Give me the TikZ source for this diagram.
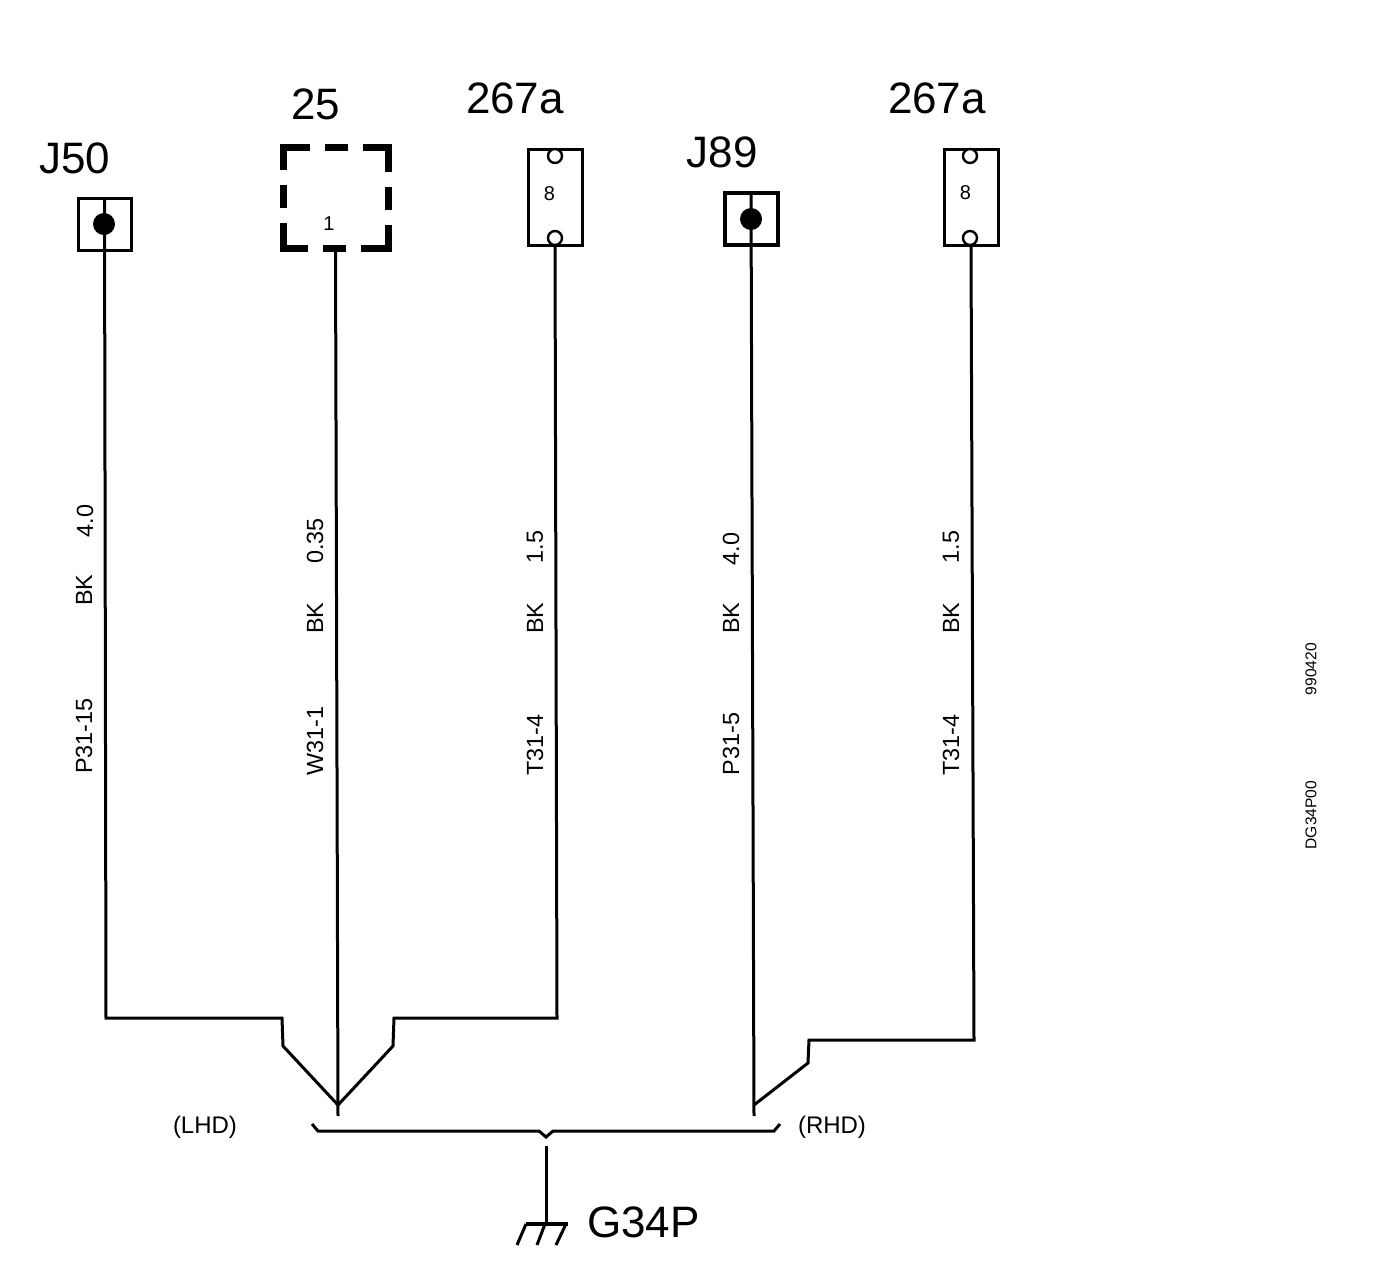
\documentclass[tikz,border=0pt]{standalone}
\usepackage{fontspec}
\setmainfont{Liberation Sans}
\begin{document}
\begin{tikzpicture}[x=0.5pt,y=-0.5pt,
  wire/.style={draw,line width=1.5pt,-,line join=miter},
  title/.style={font=\fontsize{22}{24}\selectfont,inner sep=0pt},
  small/.style={font=\fontsize{12}{14}\selectfont,inner sep=0pt},
  tiny/.style={font=\fontsize{10}{12}\selectfont,inner sep=0pt},
  cable/.style={font=\fontsize{11.7}{14}\selectfont,inner sep=0pt,rotate=90},
  code/.style={font=\fontsize{7.8}{9}\selectfont,inner sep=0pt,rotate=90},
  pinbox/.style={draw,line width=1.5pt,minimum width=26.5pt,minimum height=26pt,inner sep=0pt,outer sep=0pt},
  fusebox/.style={draw,line width=1.5pt,minimum width=27pt,minimum height=48pt,inner sep=0pt,outer sep=0pt},
  solid pin/.style={circle,fill,minimum size=11pt,inner sep=0pt},
  open pin/.style={circle,draw,fill=white,line width=1.2pt,minimum size=7pt,inner sep=0pt}]
\useasboundingbox (0,0) rectangle (1376,1282);

\node[title] (tj50) at (74.5,158) {J50};
\node[title] (t25) at (316,104) {25};
\node[title] (t267l) at (515,98.5) {267a};
\node[title] (tj89) at (722,152) {J89};
\node[title] (t267r) at (937,98.5) {267a};
\node[title] (tg34p) at (643.5,1222) {G34P};

\node[pinbox] (j50) at (104.5,224) {};
\node[pinbox,line width=2pt] (j89) at (751,219) {};
\node[fusebox] (f1) at (555,197) {};
\node[fusebox] (f2) at (971,197) {};
\node[draw,line width=3.5pt,line cap=rect,minimum width=52.5pt,minimum height=50.5pt,inner sep=0pt,outer sep=0pt,
  dash pattern=on 21.5pt off 11pt on 8pt off 11pt,dash phase=10.75pt] (c25) at (335.5,197.5) {};

\node[tiny] (n1) at (329,224) {1};

\coordinate (a1) at (106,1018);
\coordinate (a2) at (282,1018);
\coordinate (a3) at (283,1046);
\coordinate (b1) at (557,1018);
\coordinate (b2) at (394,1018);
\coordinate (b3) at (393,1046);
\coordinate (m1) at (338,1105);
\coordinate (m2) at (338,1116);
\coordinate (r1) at (974,1040);
\coordinate (r2) at (809,1040);
\coordinate (r3) at (808,1063);
\coordinate (m3) at (754,1105);
\coordinate (m4) at (754,1116);

\path[wire] (j50.north) -- (a1) -- (a2) -- (a3) -- (m1);
\path[wire] (c25.south) -- (m2);
\path[wire] (f1.south) -- (b1) -- (b2) -- (b3) -- (m1);
\path[wire] (j89.north) -- (m4);
\path[wire] (f2.south) -- (r1) -- (r2) -- (r3) -- (m3);

\node[solid pin] (p1) at (104,224) {};
\node[solid pin] (p2) at (751,219) {};
\node[open pin] (o1) at (555,156) {};
\node[open pin] (o2) at (555,238) {};
\node[open pin] (o3) at (970,156) {};
\node[open pin] (o4) at (970,238) {};
\node[tiny] (n2) at (549.5,194) {8};
\node[tiny] (n3) at (965.5,193) {8};

\node[cable] (l1) at (85,521) {4.0};
\node[cable] (l2) at (84,590) {BK};
\node[cable] (l3) at (84,736) {P31-15};
\node[cable] (l4) at (315,541) {0.35};
\node[cable] (l5) at (315,618) {BK};
\node[cable] (l6) at (315,741) {W31-1};
\node[cable] (l7) at (535,547) {1.5};
\node[cable] (l8) at (535,618) {BK};
\node[cable] (l9) at (535,745) {T31-4};
\node[cable] (l10) at (731,549) {4.0};
\node[cable] (l11) at (731,618) {BK};
\node[cable] (l12) at (731,744) {P31-5};
\node[cable] (l13) at (951,547) {1.5};
\node[cable] (l14) at (951,618) {BK};
\node[cable] (l15) at (951,745) {T31-4};

\node[small] (lhd) at (205,1127) {(LHD)};
\node[small] (rhd) at (832,1127) {(RHD)};
\node[code] (d1) at (1311,669) {990420};
\node[code] (d2) at (1311,815) {DG34P00};

% bracket and ground
\coordinate (s1) at (312,1124);
\coordinate (s2) at (318,1131);
\coordinate (s3) at (539,1131);
\coordinate (s4) at (546,1137);
\coordinate (s5) at (553,1131);
\coordinate (s6) at (774,1131);
\coordinate (s7) at (780,1124);
\path[wire] (s1) -- (s2) -- (s3) -- (s4) -- (s5) -- (s6) -- (s7);

\coordinate (g0) at (546,1146);
\coordinate (g1) at (546,1224);
\coordinate (g2) at (526,1224);
\coordinate (g3) at (568,1224);
\coordinate (h1) at (517,1245);
\coordinate (h2) at (537,1245);
\coordinate (h3) at (556,1245);
\coordinate (h4) at (545,1224);
\coordinate (h5) at (566,1224);
\path[wire] (g0) -- (g1);
\path[wire,line width=2pt] (g2) -- (g3);
\path[wire] (h1) -- (g2);
\path[wire] (h4) -- (h2);
\path[wire] (h5) -- (h3);
\end{tikzpicture}
\end{document}
